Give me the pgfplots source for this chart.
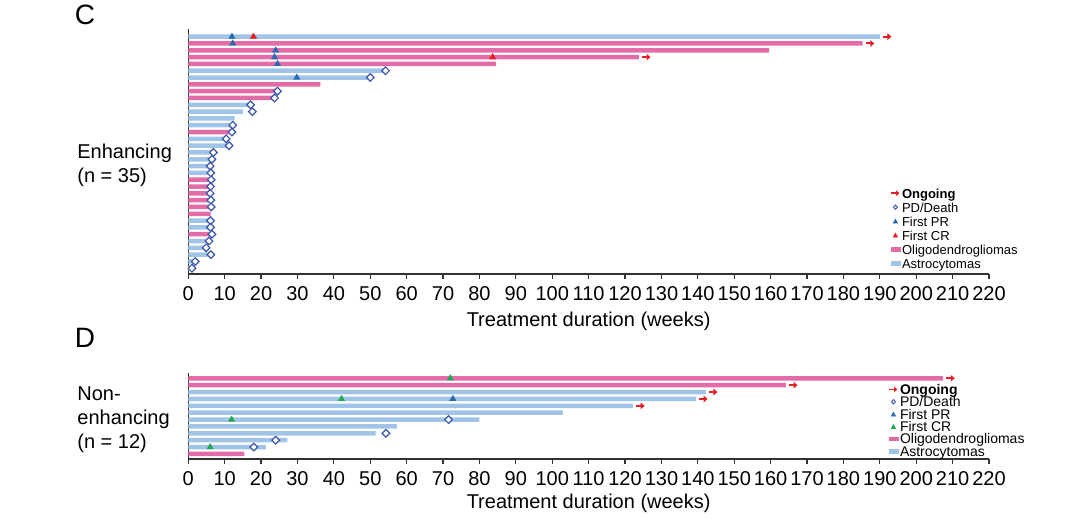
\documentclass[border=0pt]{standalone}
\usepackage{fontspec}
\setmainfont{Liberation Sans}
\usepackage{pgfplots}
\pgfplotsset{compat=1.18}
\usetikzlibrary{arrows.meta}
\definecolor{oligo}{RGB}{227,108,168}
\definecolor{astro}{RGB}{160,196,232}
\definecolor{pdblue}{RGB}{60,85,170}
\definecolor{prblue}{RGB}{40,105,180}
\definecolor{crred}{RGB}{232,30,40}
\definecolor{crgreen}{RGB}{30,170,80}
\definecolor{arrred}{RGB}{232,30,40}
\pgfplotsset{
  common/.style={
    anchor=south west, scale only axis, width=400.35pt,
    xmin=0, xmax=220,
    axis x line*=bottom, axis y line*=left,
    axis line style={line width=0.8pt, black!80, -},
    xtick={0,10,...,220}, ytick=\empty,
    tick align=outside, major tick length=2.5pt,
    tick style={black!80, line width=0.6pt},
    xticklabel style={font=\fontsize{10}{12}\selectfont},
    /pgf/number format/assume math mode=true,
    xlabel={Treatment duration (weeks)},
    clip=false,
    legend cell align=left,
  },
  obar/.style={xbar, bar shift=0pt, draw=none, fill=oligo, forget plot},
  abar/.style={xbar, bar shift=0pt, draw=none, fill=astro, forget plot},
  pd/.style={only marks, color=pdblue, mark=square*, mark size=1.35pt, mark options={rotate=45, draw=pdblue, fill=white, line width=0.6pt}, forget plot},
  pr/.style={only marks, color=prblue, mark=triangle*, mark size=1.9pt, mark options={draw=prblue, fill=prblue, line width=0.1pt}, forget plot},
  cr/.style={only marks, color=#1, mark=triangle*, mark size=1.9pt, mark options={draw=#1, fill=#1, line width=0.1pt}, forget plot},
  ongo/.style={arrred, line width=1pt, quiver={u=2.4,v=0}, -{Triangle[length=2pt,width=3.2pt]}, forget plot},
  limg/.style={
    /pgfplots/legend image code/.code={#1}},
}
\newcommand\legimages[1]{%
\addlegendimage{legend image code/.code={\draw[arrred, line width=0.9pt, -{Triangle[length=1.6pt,width=2.6pt]}] (0pt,0.6pt) -- (4pt,0.6pt);}}
\addlegendentry{\textbf{Ongoing}}
\addlegendimage{legend image code/.code={\draw[pdblue, fill=white, line width=0.45pt] (2pt,1.7pt) -- (3pt,0.6pt) -- (2pt,-0.5pt) -- (1pt,0.6pt) -- cycle;}}
\addlegendentry{PD/Death}
\addlegendimage{legend image code/.code={\fill[prblue] (1pt,-0.3pt) -- (3pt,-0.3pt) -- (2pt,1.5pt) -- cycle;}}
\addlegendentry{First PR}
\addlegendimage{legend image code/.code={\fill[#1] (1pt,-0.3pt) -- (3pt,-0.3pt) -- (2pt,1.5pt) -- cycle;}}
\addlegendentry{First CR}
\addlegendimage{legend image code/.code={\fill[oligo] (0pt,-0.3pt) rectangle (4.5pt,1.5pt);}}
\addlegendentry{Oligodendrogliomas}
\addlegendimage{legend image code/.code={\fill[astro] (0pt,-0.3pt) rectangle (4.5pt,1.5pt);}}
\addlegendentry{Astrocytomas}
}
\begin{document}
\begin{tikzpicture}
\path[use as bounding box] (0,0) rectangle (540pt,261pt);
\node[font=\fontsize{14}{16}\selectfont] at (42.5pt,253.5pt) {C};
\node[font=\fontsize{14}{16}\selectfont] at (42.5pt,92pt) {D};
\node[anchor=west, align=left, inner sep=0pt, font=\fontsize{10}{12}\selectfont] at (38.5pt,178.5pt) {Enhancing\\(n = 35)};
\node[anchor=west, align=left, inner sep=0pt, font=\fontsize{10}{12}\selectfont] at (38.5pt,51pt) {Non-\\enhancing\\(n = 12)};

% ---------- Panel C ----------
\begin{axis}[common, at={(94.15pt,124pt)}, height=122.5pt,
  ymin=0.16, ymax=36.13,
  xlabel style={font=\fontsize{10}{12}\selectfont, at={(axis description cs:0.5,0)}, anchor=center, yshift=-23.5pt},
  legend style={at={(0.8765,0.355)}, anchor=north west, draw=none, fill=none, inner sep=0pt,
    font=\fontsize{6.5}{7}\selectfont, row sep=0pt,
    nodes={inner xsep=0.6pt, inner ysep=0.5pt, text height=4.8pt, text depth=1.2pt}},
]
\legimages{crred}
\addplot[obar, bar width=0.66] coordinates {(185.3,34) (159.6,33) (123.8,32) (84.6,31) (36.3,28) (24.3,27) (23.4,26) (11.5,21) (6.0,14) (5.8,13) (5.7,12) (5.9,11) (6.0,10) (6.1,9) (6.2,6)};
\addplot[abar, bar width=0.66] coordinates {(190.0,35) (54.2,30) (50.0,29) (16.5,25) (15.0,24) (12.7,23) (12.0,22) (9.9,20) (10.6,19) (6.5,18) (6.0,17) (5.8,16) (5.9,15) (5.9,8) (5.9,7) (5.5,5) (4.6,4) (6.0,3) (1.6,2) (0.8,1)};
\addplot[pd] coordinates {(54.2,30) (50.0,29) (24.5,27) (23.7,26) (17.1,25) (17.6,24) (12.2,22) (12.0,21) (10.4,20) (11.2,19) (6.9,18) (6.5,17) (6.0,16) (6.2,15) (6.3,14) (6.1,13) (6.0,12) (6.2,11) (6.3,10) (6.1,8) (6.1,7) (6.5,6) (5.7,5) (4.9,4) (6.2,3) (1.9,2) (1.0,1)};
\addplot[pr] coordinates {(12.0,35) (12.2,34) (24.0,33) (23.7,32) (24.5,31) (29.8,29)};
\addplot[cr=crred] coordinates {(17.9,35) (83.6,32)};
\addplot[ongo] coordinates {(190.8,35) (186.1,34) (124.6,32)};
\end{axis}

% ---------- Panel D ----------
\begin{axis}[common, at={(94.15pt,31.5pt)}, height=42.85pt,
  ymin=0.27, ymax=12.73,
  xlabel style={font=\fontsize{10}{12}\selectfont, at={(axis description cs:0.5,0)}, anchor=center, yshift=-22pt},
  legend style={at={(0.874,0.875)}, anchor=north west, draw=none, fill=none, inner sep=0pt,
    font=\fontsize{7}{7.5}\selectfont, row sep=0pt,
    nodes={inner xsep=0.6pt, inner ysep=0.1pt, text height=4.8pt, text depth=1.2pt}},
]
\legimages{crgreen}
\addplot[obar, bar width=0.65] coordinates {(207.4,12) (164.2,11) (15.4,1)};
\addplot[abar, bar width=0.65] coordinates {(142.2,10) (139.5,9) (122.2,8) (102.9,7) (80.0,6) (57.3,5) (51.5,4) (27.2,3) (21.3,2)};
\addplot[pd] coordinates {(71.5,6) (54.3,4) (24.0,3) (18.0,2)};
\addplot[pr] coordinates {(72.7,9)};
\addplot[cr=crgreen] coordinates {(72.0,12) (42.1,9) (11.9,6) (6.0,2)};
\addplot[ongo] coordinates {(208.2,12) (165.0,11) (143.0,10) (140.3,9) (123.0,8)};
\end{axis}
\end{tikzpicture}
\end{document}
